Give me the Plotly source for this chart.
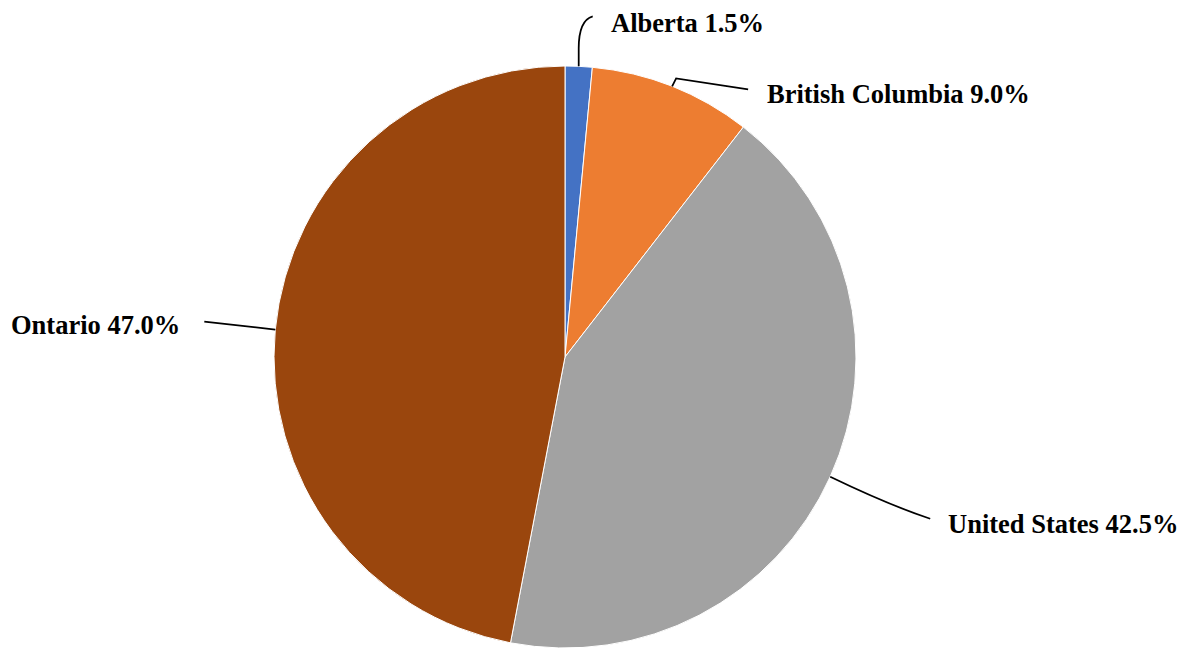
import math
import plotly.graph_objects as go

# ---- data ----
regions = ["Alberta", "British Columbia", "United States", "Ontario"]
shares = [1.5, 9.0, 42.5, 47.0]
colors = ["#4472C4", "#ED7D31", "#A2A2A2", "#9A460D"]

# ---- geometry / style ----
OFF = 8  # default page body margin
W, H = 1187 - OFF, 648 - OFF
CX, CY, R = 565 - OFF, 357 - OFF, 291  # pie centre (px in figure) and radius
FONT = dict(family="Liberation Serif, Times New Roman, serif", size=26.5, color="#000000")

# leader-line waypoints as pixel offsets from the rim anchor (style)
leader_offsets = [
    [("L", 0, -18), ("Q", 0, -46, 14, -50)],
    [("L", 4, -8), ("L", 76, 3)],
    [("Q", 58, 28, 100, 42)],
    [("L", -71, -8)],
]
# label offset from the leader end (px) and anchor side
label_offsets = [(16, 7, "left"), (17, 5, "left"), (16, 5, "left"), (-22, 3, "right")]


def px(x, y):
    return x / W, 1 - y / H


fig = go.Figure(
    go.Pie(
        labels=regions,
        values=shares,
        sort=False,
        direction="clockwise",
        rotation=0,
        marker=dict(colors=colors, line=dict(color="white", width=1)),
        textinfo="none",
        hoverinfo="label+percent",
        domain=dict(x=[(CX - R) / W, (CX + R) / W], y=[0, min(1, 2 * (H - CY) / H)]),
    )
)

total = sum(shares)
cum = 0.0
shapes, annotations = [], []
for i, (name, v) in enumerate(zip(regions, shares)):
    mid = (cum + v / 2) / total * 2 * math.pi
    cum += v
    sx = CX + R * math.sin(mid)
    sy = CY - R * math.cos(mid)
    x0, y0 = px(sx, sy)
    path = f"M {x0},{y0}"
    ex, ey = sx, sy
    for seg in leader_offsets[i]:
        if seg[0] == "L":
            ex, ey = sx + seg[1], sy + seg[2]
            a, b = px(ex, ey)
            path += f" L {a},{b}"
        else:
            qx, qy = px(sx + seg[1], sy + seg[2])
            ex, ey = sx + seg[3], sy + seg[4]
            a, b = px(ex, ey)
            path += f" Q {qx},{qy} {a},{b}"
    shapes.append(dict(type="path", path=path, xref="paper", yref="paper",
                       line=dict(color="black", width=1.75)))
    dx, dy, side = label_offsets[i]
    lx, ly = px(ex + dx, ey + dy)
    annotations.append(dict(
        text=f"<b>{name} {v:.1f}%</b>", x=lx, y=ly, xref="paper", yref="paper",
        xanchor=side, yanchor="middle", showarrow=False, font=FONT,
    ))

fig.update_layout(
    width=W, height=H,
    margin=dict(l=0, r=0, t=0, b=0),
    paper_bgcolor="white", plot_bgcolor="white",
    showlegend=False,
    shapes=shapes, annotations=annotations,
)

fig.write_html("out.html")
